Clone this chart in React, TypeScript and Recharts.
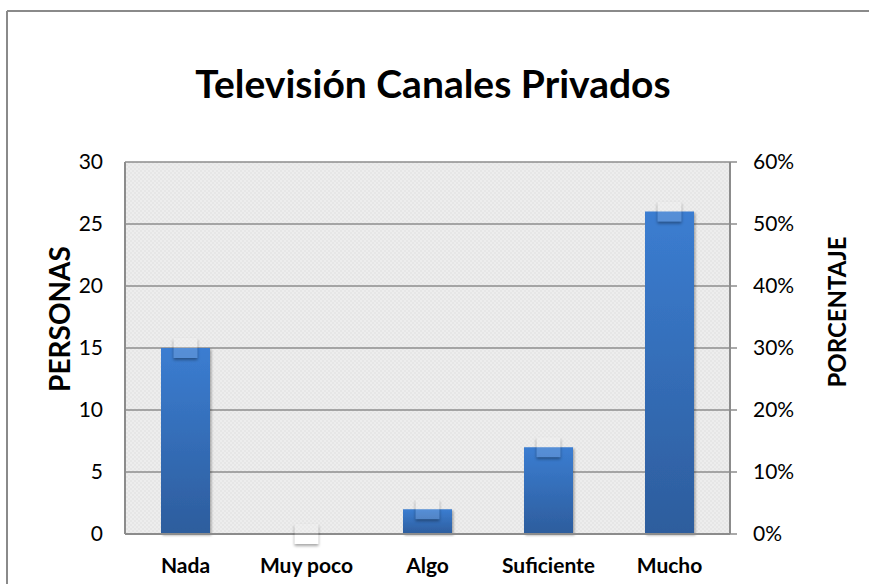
import React from 'react';
import { ComposedChart, Bar, Line, XAxis, YAxis, CartesianGrid } from 'recharts';

const categories = ['Nada', 'Muy poco', 'Algo', 'Suficiente', 'Mucho'];
const personas = [15, 0, 2, 7, 26];
const porcentaje = [30, 0, 4, 14, 52];
const leftTicks = [0, 5, 10, 15, 20, 25, 30];
const rightTicks = [0, 10, 20, 30, 40, 50, 60];

const data = categories.map((c, i) => ({ cat: c, personas: personas[i], pct: porcentaje[i] }));

const FONT = 'Lato, "Open Sans", sans-serif';
const GRID = '#8c8c8c';

const Marker = (props: any) => {
  const { cx, cy, index } = props;
  if (cx == null || cy == null) return <g key={`m-${index}`} />;
  const w = 24;
  const h = 20;
  const x = cx - w / 2;
  const y = cy - h / 2;
  return (
    <g key={`m-${index}`}>
      <mask id={`mk-${index}`} maskUnits="userSpaceOnUse" x={x - 10} y={y - 10} width={w + 20} height={h + 20}>
        <rect x={x - 10} y={y - 10} width={w + 20} height={h + 20} fill="white" />
        <rect x={x} y={y} width={w} height={h} fill="black" />
      </mask>
      <rect
        x={x}
        y={y + 2}
        width={w}
        height={h}
        fill="#000"
        opacity={0.35}
        filter="url(#mkBlur)"
        mask={`url(#mk-${index})`}
      />
      <rect x={x} y={y} width={w} height={h} fill="#ffffff" opacity={0.14} />
    </g>
  );
};

export default function App() {
  return (
    <div
      style={{
        position: 'fixed',
        left: 0,
        top: 0,
        width: 869,
        height: 584,
        overflow: 'hidden',
        background: '#ffffff',
        fontFamily: FONT,
      }}
    >
      <div style={{ position: 'absolute', left: 0, top: 0 }}>
        <ComposedChart
          width={869}
          height={584}
          data={data}
          margin={{ top: 162, right: 79, bottom: 0, left: 65 }}
          barSize={49}
        >
          <defs>
            <pattern id="bgPat" width="4" height="4" patternUnits="userSpaceOnUse">
              <rect width="4" height="4" fill="#e6e6e6" />
              <rect width="2" height="2" fill="#ededed" />
              <rect x="2" y="2" width="2" height="2" fill="#ededed" />
            </pattern>
            <linearGradient id="barGrad" x1="0" y1="0" x2="0" y2="1">
              <stop offset="0%" stopColor="#3b7dd1" />
              <stop offset="100%" stopColor="#2d5d9d" />
            </linearGradient>
            <filter id="barShadow" x="-20%" y="-10%" width="140%" height="120%">
              <feDropShadow dx="1.5" dy="1.5" stdDeviation="1.2" floodColor="#000" floodOpacity="0.3" />
            </filter>
            <filter id="mkBlur" x="-50%" y="-50%" width="200%" height="200%">
              <feGaussianBlur stdDeviation="1.5" />
            </filter>
          </defs>
          <CartesianGrid
            yAxisId="left"
            vertical={false}
            stroke={GRID}
            strokeWidth={1.5}
            fill="url(#bgPat)"
            fillOpacity={1}
          />
          <XAxis
            dataKey="cat"
            xAxisId={0}
            height={50}
            axisLine={{ stroke: GRID, strokeWidth: 2 }}
            tickLine={false}
            tickSize={6}
            tickMargin={18}
            interval={0}
            tick={{ fill: '#000', fontSize: 21, fontWeight: 700, fontFamily: FONT }}
          />
          <YAxis
            yAxisId="left"
            orientation="left"
            width={60}
            domain={[0, 30]}
            ticks={leftTicks}
            interval={0}
            axisLine={{ stroke: GRID, strokeWidth: 2 }}
            tickLine={false}
            tickSize={6}
            tickMargin={16}
            tick={{ fill: '#000', fontSize: 21, fontFamily: FONT }}
          />
          <YAxis
            yAxisId="right"
            orientation="right"
            width={60}
            domain={[0, 60]}
            ticks={rightTicks}
            interval={0}
            tickFormatter={(v: number) => `${v}%`}
            axisLine={{ stroke: GRID, strokeWidth: 2 }}
            tickLine={{ stroke: GRID, strokeWidth: 1.5 }}
            tickSize={7}
            tickMargin={16}
            tick={{ fill: '#000', fontSize: 21, fontFamily: FONT }}
          />
          <Bar
            yAxisId="left"
            dataKey="personas"
            fill="url(#barGrad)"
            filter="url(#barShadow)"
            isAnimationActive={false}
          />
          <Line
            yAxisId="right"
            dataKey="pct"
            stroke="none"
            dot={Marker}
            activeDot={false}
            isAnimationActive={false}
          />
        </ComposedChart>
      </div>
      <svg
        width={869}
        height={584}
        style={{ position: 'absolute', left: 0, top: 0, pointerEvents: 'none' }}
      >
        <rect x={860} y={12} width={9} height={572} fill="#ffffff" />
        <line x1={7} y1={11} x2={869} y2={11} stroke="#8a8a8a" strokeWidth={2} />
        <line x1={7} y1={11} x2={7} y2={584} stroke="#8a8a8a" strokeWidth={2} />
        <text
          x={433}
          y={98}
          textAnchor="middle"
          fontFamily={FONT}
          fontSize={39}
          fontWeight={700}
          fill="#000"
        >
          Televisión Canales Privados
        </text>
        <text
          x={70}
          y={319}
          textAnchor="middle"
          transform="rotate(-90 70 319)"
          fontFamily={FONT}
          fontSize={28}
          fontWeight={700}
          fill="#000"
        >
          PERSONAS
        </text>
        <text
          x={846}
          y={312}
          textAnchor="middle"
          transform="rotate(-90 846 312)"
          fontFamily={FONT}
          fontSize={24}
          fontWeight={700}
          fill="#000"
        >
          PORCENTAJE
        </text>
      </svg>
    </div>
  );
}
